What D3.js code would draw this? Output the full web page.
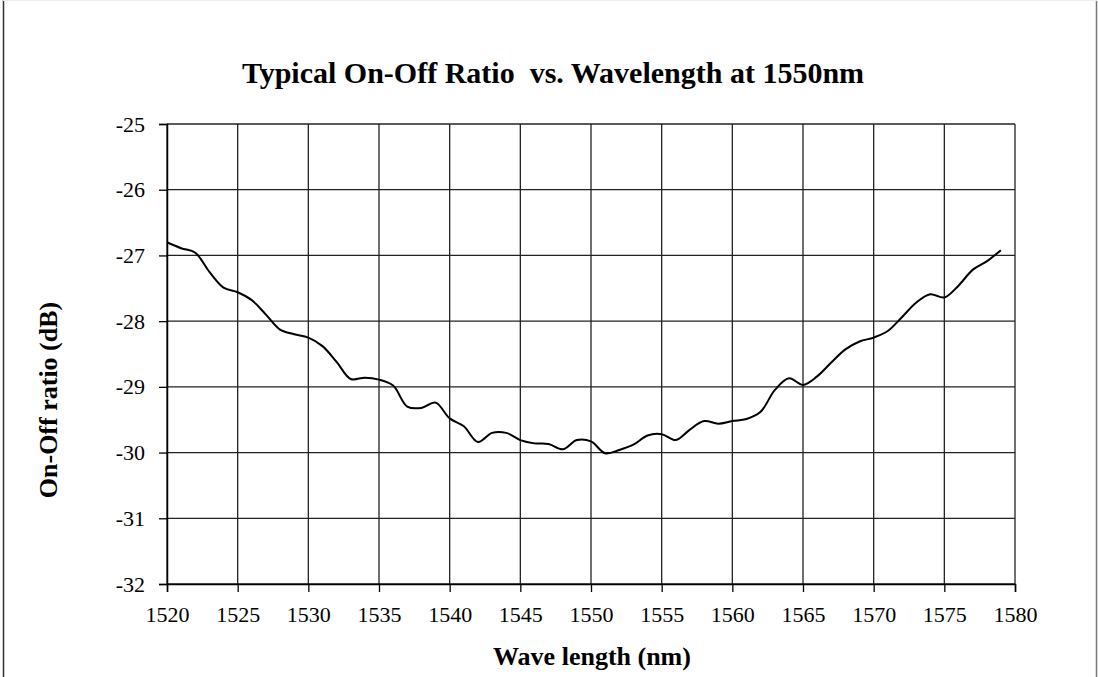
<!DOCTYPE html>
<html>
<head>
<meta charset="utf-8">
<script src="https://cdn.jsdelivr.net/npm/d3@7/dist/d3.min.js"></script>
<style>
  html, body { margin: 0; padding: 0; background: #fff; }
  svg { display: block; }
  text { font-family: "Liberation Serif", "Times New Roman", serif; fill: #000; white-space: pre; }
</style>
</head>
<body>
<svg id="chart" width="1098" height="677"></svg>
<script>
const wavelengths = [1520,1521,1522,1523,1524,1525,1526,1527,1528,1529,
  1530,1531,1532,1533,1534,1535,1536,1537,1538,1539,
  1540,1541,1542,1543,1544,1545,1546,1547,1548,1549,
  1550,1551,1552,1553,1554,1555,1556,1557,1558,1559,
  1560,1561,1562,1563,1564,1565,1566,1567,1568,1569,
  1570,1571,1572,1573,1574,1575,1576,1577,1578,1579];
const onOffRatio = [-26.80,-26.89,-26.96,-27.25,-27.49,-27.56,-27.68,-27.90,-28.13,-28.20,
  -28.25,-28.38,-28.62,-28.88,-28.86,-28.89,-28.98,-29.30,-29.32,-29.24,
  -29.48,-29.60,-29.84,-29.70,-29.70,-29.81,-29.86,-29.87,-29.95,-29.81,
  -29.83,-30.01,-29.96,-29.88,-29.74,-29.72,-29.81,-29.65,-29.52,-29.56,
  -29.52,-29.49,-29.38,-29.05,-28.87,-28.97,-28.84,-28.63,-28.43,-28.31,
  -28.25,-28.15,-27.94,-27.72,-27.59,-27.64,-27.46,-27.22,-27.09,-26.92];
const xTicks = [1520,1525,1530,1535,1540,1545,1550,1555,1560,1565,1570,1575,1580];
const yTicks = [-25,-26,-27,-28,-29,-30,-31,-32];
const titleText = "Typical On-Off Ratio  vs. Wavelength at 1550nm";
const xTitle = "Wave length (nm)";
const yTitle = "On-Off ratio (dB)";

(function () {
const W = 1098, H = 677;
const pLeft = 167, pRight = 1015, pTop = 124, pBottom = 584;
const svg = d3.select("#chart");

// outer frame
svg.append("line").attr("x1", 3.5).attr("x2", 3.5).attr("y1", 0).attr("y2", H).attr("stroke", "#333").attr("stroke-width", 1.5);
svg.append("line").attr("x1", 1096.5).attr("x2", 1096.5).attr("y1", 0).attr("y2", H).attr("stroke", "#777").attr("stroke-width", 1.5);
svg.append("line").attr("x1", 3).attr("x2", 1097).attr("y1", 0.5).attr("y2", 0.5).attr("stroke", "#eee").attr("stroke-width", 1);

const x = d3.scaleLinear().domain([1520, 1580]).range([pLeft, pRight]);
const y = d3.scaleLinear().domain([-32, -25]).range([pBottom, pTop]);

// grid
const grid = svg.append("g");
grid.selectAll("line.v").data(xTicks).join("line").attr("class", "v")
  .attr("x1", d => x(d)).attr("x2", d => x(d))
  .attr("y1", pTop).attr("y2", pBottom)
  .attr("stroke", "#222").attr("stroke-width", 1.3);
grid.selectAll("line.h").data(yTicks).join("line").attr("class", "h")
  .attr("x1", pLeft).attr("x2", pRight)
  .attr("y1", d => y(d)).attr("y2", d => y(d))
  .attr("stroke", "#222").attr("stroke-width", 1.3);

// axes
const xAxis = d3.axisBottom(x).tickValues(xTicks).tickFormat(d3.format("d")).tickSize(8).tickPadding(14);
const yAxis = d3.axisLeft(y).tickValues(yTicks).tickFormat(d => String(d)).tickSize(8).tickPadding(14);
const gx = svg.append("g").attr("transform", `translate(0,${pBottom})`).call(xAxis);
const gy = svg.append("g").attr("transform", `translate(${pLeft},0)`).call(yAxis);
[gx, gy].forEach(g => {
  g.select(".domain").attr("stroke", "#000").attr("stroke-width", 1.5);
  g.selectAll(".tick line").attr("stroke", "#000").attr("stroke-width", 1.3);
  g.selectAll(".tick text").attr("font-family", "Liberation Serif").attr("font-size", 22).attr("fill", "#000");
});

// line
const line = d3.line()
  .x((d, i) => x(wavelengths[i]))
  .y(d => y(d))
  .curve(d3.curveCatmullRom.alpha(0.5));
svg.append("path").datum(onOffRatio)
  .attr("d", line).attr("fill", "none").attr("stroke", "#000").attr("stroke-width", 2);

// titles
svg.append("text").attr("x", 553).attr("y", 83).attr("text-anchor", "middle")
  .attr("font-size", 30).attr("font-weight", "bold").text(titleText);
svg.append("text").attr("x", 592).attr("y", 665).attr("text-anchor", "middle")
  .attr("font-size", 26).attr("font-weight", "bold").text(xTitle);
svg.append("text").attr("transform", "translate(57,400) rotate(-90)").attr("text-anchor", "middle")
  .attr("font-size", 26).attr("font-weight", "bold").text(yTitle);
})();
</script>
</body>
</html>
